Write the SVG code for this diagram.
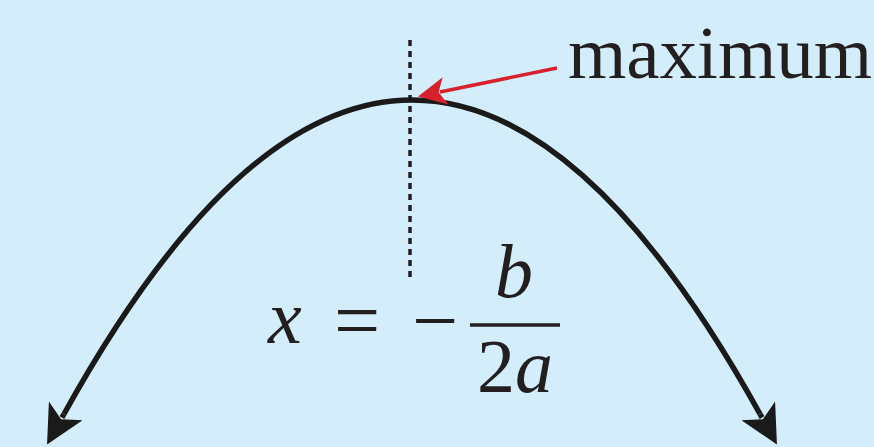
<svg xmlns="http://www.w3.org/2000/svg" width="874" height="447" viewBox="0 0 874 447">
<defs>
<marker id="bh" viewBox="0 0 10 10" refX="2" refY="5" markerWidth="7.5" markerHeight="7" orient="auto" markerUnits="strokeWidth">
<path d="M0,0 L10,5 L0,10 L2.5,5 Z" fill="#1a1a1a"/>
</marker>
<marker id="rh" viewBox="0 0 10 10" refX="2" refY="5" markerWidth="9" markerHeight="8" orient="auto" markerUnits="strokeWidth">
<path d="M0,0 L10,5 L0,10 L2.5,5 Z" fill="#d7222e"/>
</marker>
</defs>
<rect width="874" height="447" fill="#d3eefa"/>
<g id="axis">
<line x1="410" y1="40" x2="410" y2="282" stroke="#231f20" stroke-width="3.5" stroke-dasharray="6,5"/>
</g>
<g id="connectors">
<path id="parabola" d="M64 414 Q412 -214 760 414" fill="none" stroke="#1a1a1a" stroke-width="5.5"/>
<path d="M64 414 L62 417.6" fill="none" stroke="#1a1a1a" stroke-width="5.5" marker-end="url(#bh)"/>
<path d="M760 414 L762 417.6" fill="none" stroke="#1a1a1a" stroke-width="5.5" marker-end="url(#bh)"/>
<line x1="557" y1="68" x2="440" y2="92" stroke="#d7222e" stroke-width="3.5" marker-end="url(#rh)"/>
</g>
<g id="label-maximum">
<text font-family="Liberation Serif" fill="#231f20" x="568" y="78" font-size="75" textLength="304" lengthAdjust="spacingAndGlyphs">maximum</text>
</g>
<g id="formula" fill="#231f20">
<text font-family="Liberation Serif" font-style="italic" x="268" y="343" font-size="76">x</text>
<text font-family="Liberation Serif" x="357" y="348" font-size="82" text-anchor="middle">=</text>
<text font-family="Liberation Serif" x="435" y="348" font-size="82" text-anchor="middle">−</text>
<text font-family="Liberation Serif" font-style="italic" x="514" y="297" font-size="76" text-anchor="middle">b</text>
<line x1="470" y1="325" x2="560" y2="325" stroke="#231f20" stroke-width="3.5"/>
<text font-family="Liberation Serif" x="515" y="392" font-size="76" text-anchor="middle">2<tspan font-style="italic">a</tspan></text>
</g>
</svg>
